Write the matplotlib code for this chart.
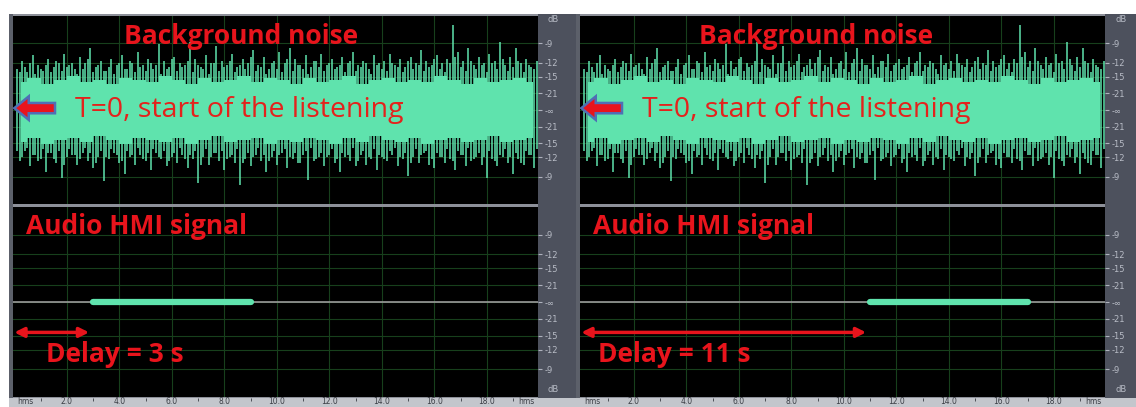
import numpy as np
import matplotlib
matplotlib.use("Agg")
import matplotlib.pyplot as plt
from matplotlib.patches import FancyArrow

W, H = 1136, 407

# --- data -------------------------------------------------------------------
# noise peaks (linear amplitude, 0 dB = 1.0), one value every 0.2 s, 0..20 s
noise_up = [0.22, 0.26, 0.20, 0.29, 0.24, 0.21, 0.27, 0.23, 0.25, 0.30,
            0.24, 0.22, 0.28, 0.25, 0.33, 0.23, 0.26, 0.21, 0.27, 0.24,
            0.29, 0.22, 0.25, 0.31, 0.24, 0.27, 0.22, 0.35, 0.26, 0.23,
            0.28, 0.25, 0.24, 0.36, 0.27, 0.23, 0.29, 0.25, 0.34, 0.26,
            0.24, 0.30, 0.23, 0.27, 0.25, 0.32, 0.24, 0.28, 0.22, 0.26,
            0.31, 0.25, 0.33, 0.27, 0.24, 0.29, 0.23, 0.26, 0.30, 0.24,
            0.27, 0.23, 0.28, 0.25, 0.31, 0.24, 0.26, 0.22, 0.29, 0.25,
            0.26, 0.30, 0.24, 0.27, 0.23, 0.28, 0.25, 0.32, 0.26, 0.24,
            0.29, 0.25, 0.27, 0.45, 0.31, 0.26, 0.33, 0.24, 0.28, 0.25,
            0.30, 0.26, 0.36, 0.24, 0.28, 0.33, 0.25, 0.27, 0.23, 0.26]
noise_dn = [0.27, 0.22, 0.30, 0.24, 0.26, 0.33, 0.23, 0.28, 0.36, 0.25,
            0.24, 0.29, 0.23, 0.27, 0.31, 0.25, 0.38, 0.26, 0.23, 0.28,
            0.34, 0.25, 0.29, 0.24, 0.27, 0.32, 0.23, 0.26, 0.30, 0.25,
            0.28, 0.24, 0.31, 0.26, 0.39, 0.25, 0.29, 0.23, 0.27, 0.32,
            0.25, 0.28, 0.40, 0.26, 0.30, 0.24, 0.27, 0.33, 0.25, 0.29,
            0.23, 0.31, 0.26, 0.28, 0.24, 0.37, 0.27, 0.25, 0.30, 0.24,
            0.28, 0.33, 0.25, 0.27, 0.30, 0.24, 0.29, 0.26, 0.32, 0.25,
            0.27, 0.24, 0.30, 0.26, 0.35, 0.25, 0.28, 0.23, 0.29, 0.31,
            0.25, 0.28, 0.26, 0.32, 0.24, 0.30, 0.27, 0.25, 0.29, 0.36,
            0.26, 0.30, 0.25, 0.28, 0.34, 0.26, 0.29, 0.24, 0.31, 0.27]
# smaller peaks between the ones above (offset by 0.1 s)
noise_up2 = [0.20, 0.23, 0.25, 0.19, 0.22, 0.24, 0.20, 0.26, 0.21, 0.23,
             0.25, 0.19, 0.22, 0.27, 0.20, 0.24, 0.21, 0.23, 0.19, 0.25,
             0.22, 0.26, 0.20, 0.23, 0.21, 0.25, 0.24, 0.19, 0.22, 0.27,
             0.21, 0.23, 0.26, 0.20, 0.24, 0.22, 0.19, 0.25, 0.21, 0.23,
             0.26, 0.20, 0.24, 0.22, 0.28, 0.21, 0.23, 0.19, 0.25, 0.22,
             0.20, 0.27, 0.21, 0.24, 0.22, 0.19, 0.26, 0.23, 0.21, 0.25,
             0.22, 0.24, 0.20, 0.26, 0.21, 0.23, 0.25, 0.19, 0.24, 0.22,
             0.21, 0.25, 0.23, 0.20, 0.26, 0.22, 0.24, 0.21, 0.23, 0.27,
             0.22, 0.20, 0.25, 0.28, 0.23, 0.21, 0.26, 0.22, 0.24, 0.20,
             0.25, 0.22, 0.27, 0.21, 0.23, 0.26, 0.20, 0.24, 0.22, 0.21]
noise_dn2 = [0.22, 0.25, 0.20, 0.24, 0.27, 0.21, 0.23, 0.26, 0.22, 0.29,
             0.21, 0.24, 0.26, 0.20, 0.23, 0.28, 0.22, 0.25, 0.21, 0.24,
             0.27, 0.22, 0.24, 0.20, 0.26, 0.23, 0.21, 0.25, 0.22, 0.27,
             0.23, 0.20, 0.26, 0.24, 0.22, 0.29, 0.21, 0.25, 0.23, 0.22,
             0.26, 0.24, 0.21, 0.28, 0.23, 0.25, 0.20, 0.24, 0.27, 0.22,
             0.24, 0.21, 0.25, 0.23, 0.28, 0.22, 0.20, 0.26, 0.23, 0.25,
             0.21, 0.26, 0.23, 0.24, 0.20, 0.27, 0.22, 0.25, 0.21, 0.24,
             0.26, 0.22, 0.20, 0.25, 0.23, 0.28, 0.21, 0.24, 0.22, 0.26,
             0.23, 0.25, 0.21, 0.27, 0.22, 0.24, 0.20, 0.26, 0.23, 0.25,
             0.22, 0.27, 0.24, 0.21, 0.25, 0.23, 0.28, 0.22, 0.24, 0.21]
# dense core of the noise, one value every 0.5 s
core_up = [0.15, 0.17, 0.14, 0.16, 0.18, 0.15, 0.16, 0.14, 0.17, 0.16,
           0.15, 0.18, 0.16, 0.14, 0.17, 0.15, 0.16, 0.18, 0.15, 0.17,
           0.16, 0.14, 0.17, 0.15, 0.16, 0.18, 0.14, 0.16, 0.17, 0.15,
           0.16, 0.15, 0.18, 0.16, 0.14, 0.17, 0.15, 0.16, 0.17, 0.15]
core_dn = [0.17, 0.15, 0.18, 0.16, 0.15, 0.17, 0.14, 0.16, 0.18, 0.15,
           0.16, 0.17, 0.15, 0.18, 0.16, 0.14, 0.17, 0.16, 0.15, 0.18,
           0.16, 0.17, 0.15, 0.16, 0.18, 0.15, 0.17, 0.14, 0.16, 0.17,
           0.15, 0.18, 0.16, 0.15, 0.17, 0.16, 0.14, 0.17, 0.16, 0.15]

delays = [3, 11]          # s, start of the audio HMI signal
hmi_length = 6            # s

db_labels = ["-9", "-12", "-15", "-21", "-∞", "-21", "-15", "-12", "-9"]
db_values = [-9, -12, -15, -21, None, -21, -15, -12, -9]
db_sign = [1, 1, 1, 1, 0, -1, -1, -1, -1]
time_labels = ["hms", "2.0", "4.0", "6.0", "8.0", "10.0", "12.0", "14.0", "16.0", "18.0", "hms"]
time_pos = [0.1, 2, 4, 6, 8, 10, 12, 14, 16, 18, 19.2]

# --- style ------------------------------------------------------------------
RED = "#e8141c"
WAVE = "#5fe3ad"
GRID = "#17401c"
STRIP = "#4d515d"
XLIM = (-0.05, 19.95)
YLIM = (-0.5, 0.5)
FONT = ["Open Sans", "DejaVu Sans"]

db_ticks = [s * 10 ** (d / 20) if d is not None else 0.0 for s, d in zip(db_sign, db_values)]

fig = plt.figure(figsize=(W / 100, H / 100), dpi=100)
fig.patch.set_facecolor("white")


def box(x0, y0, x1, y1):
    return [x0 / W, 1 - y1 / H, (x1 - x0) / W, (y1 - y0) / H]


def plain(rect, color):
    a = fig.add_axes(box(*rect))
    a.set_facecolor(color)
    a.set_xticks([])
    a.set_yticks([])
    for s in a.spines.values():
        s.set_visible(False)
    return a


def track(rect):
    a = fig.add_axes(box(*rect))
    a.set_facecolor("black")
    a.set_xlim(*XLIM)
    a.set_ylim(*YLIM)
    a.set_xticks(np.arange(2, 20, 2))
    a.set_yticks(db_ticks)
    a.set_yticklabels(db_labels)
    a.yaxis.tick_right()
    a.tick_params(axis="y", direction="out", length=3, pad=2, colors="#aeb2bd",
                  labelsize=6, labelcolor="#b8bcc6")
    a.tick_params(axis="x", length=0, labelbottom=False)
    a.grid(True, color=GRID, lw=0.8)
    a.set_axisbelow(True)
    for s in a.spines.values():
        s.set_visible(False)
    return a


def panel(dx, delay, t_bg, t_t0, t_delay):
    # frame pieces
    plain((dx + 9, 14, dx + 576, 398), "#8d9099")
    plain((dx + 9, 14, dx + 13, 398), "#5c606a")
    plain((dx + 538, 14, dx + 576, 398), STRIP)
    plain((dx + 9, 398, dx + 576, 407), "#c3c6cc")
    fig.text((dx + 548) / W, 1 - 20 / H, "dB", color="#b8bcc6", fontsize=6, va="center")
    fig.text((dx + 548) / W, 1 - 390 / H, "dB", color="#b8bcc6", fontsize=6, va="center")

    # top track: background noise
    top = track((dx + 13, 16, dx + 538, 204))
    t_core = np.arange(len(core_up)) * 0.5 + 0.25
    top.fill_between(t_core, [-v for v in core_dn], core_up, step="mid", color=WAVE, lw=0)
    t_noise = np.arange(len(noise_up)) * 0.2 + 0.1
    top.vlines(t_noise, 0, noise_up, color=WAVE, lw=1.1)
    top.vlines(t_noise + 0.1, [-v for v in noise_dn], 0, color=WAVE, lw=1.1)
    top.vlines(t_noise + 0.1, 0, noise_up2, color=WAVE, lw=1.1)
    top.vlines(t_noise, [-v for v in noise_dn2], 0, color=WAVE, lw=1.1)
    top.text(t_bg, 0.39, "Background noise", color=RED, fontsize=19, fontweight="bold",
             ha="center", va="center", family=FONT, zorder=6)
    top.add_patch(FancyArrow(1.55, 0.01, -1.0, 0, width=0.055, head_width=0.125,
                             head_length=0.55, length_includes_head=False,
                             facecolor=RED, edgecolor="#4f6fb5", lw=1.8, zorder=6))
    top.text(t_t0, 0.0, "T=0, start of the listening", color="#e4221c", fontsize=20.5,
             ha="left", va="center", family=FONT, zorder=6)

    # bottom track: audio HMI signal
    bot = track((dx + 13, 207, dx + 538, 397))
    bot.axhline(0, color="#9a9a9a", lw=1.2)
    bot.plot([delay, delay + hmi_length], [0, 0], color=WAVE, lw=4.5,
             solid_capstyle="round")
    bot.annotate("", xy=(0.0, -0.16), xytext=(delay - 0.15, -0.16),
                 arrowprops=dict(arrowstyle="<|-|>", color=RED, lw=2.5,
                                 mutation_scale=14, shrinkA=0, shrinkB=0))
    bot.text(0.45, 0.395, "Audio HMI signal", color=RED, fontsize=19, fontweight="bold",
             ha="left", va="center", family=FONT)
    bot.text(t_delay, -0.275, f"Delay = {delay} s", color=RED, fontsize=19,
             fontweight="bold", ha="left", va="center", family=FONT)

    # time ruler
    rul = fig.add_axes(box(dx + 13, 398, dx + 538, 407))
    rul.set_xlim(*XLIM)
    rul.set_ylim(0, 1)
    rul.axis("off")
    for i, (tp, lab) in enumerate(zip(time_pos, time_labels)):
        ha = "left" if i in (0, len(time_labels) - 1) else "center"
        rul.text(tp, 0.08, lab, fontsize=5.5, color="#3a3d44", ha=ha, va="bottom")
    rul.vlines(np.arange(1, 20, 2), 0.7, 1.0, color="#3a3d44", lw=0.6)


panel(0, delays[0], 8.63, 2.3, 1.2)
plain((576, 14, 579, 407), "#d6d8dc")
panel(567, delays[1], 8.93, 2.3, 0.65)

fig.savefig("out.png", dpi=100)
